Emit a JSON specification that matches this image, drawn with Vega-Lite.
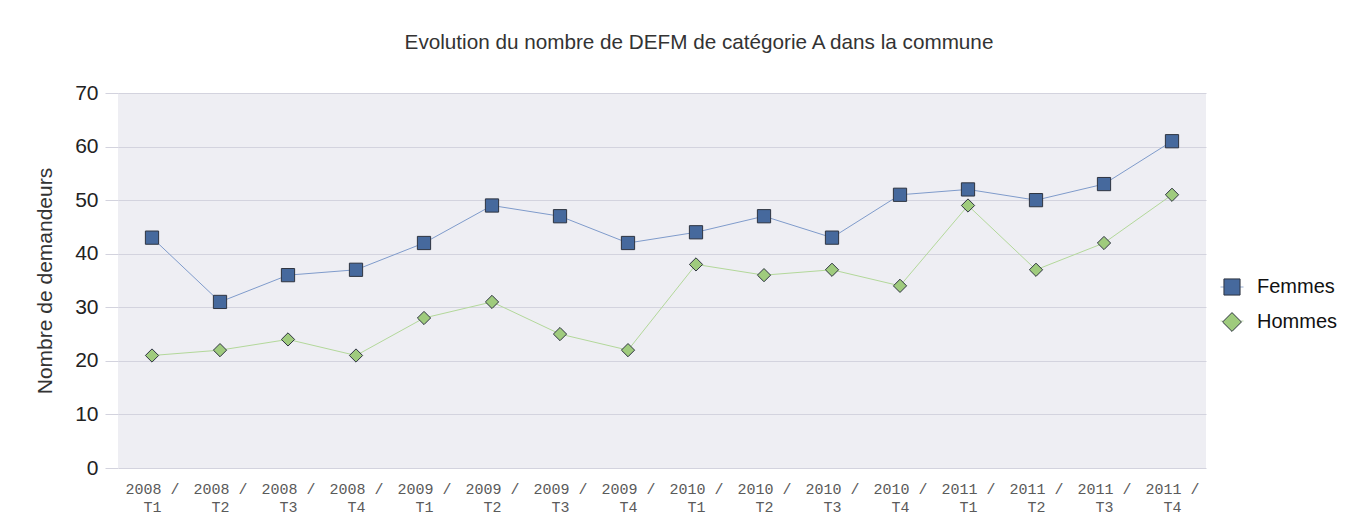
{
  "$schema": "https://vega.github.io/schema/vega-lite/v6.json",
  "width": 1088,
  "height": 375,
  "autosize": {"type": "none"},
  "padding": {"left": 118, "top": 93, "right": 163, "bottom": 52},
  "background": "white",
  "title": {
    "text": "Evolution du nombre de DEFM de catégorie A dans la commune",
    "font": "Liberation Sans",
    "fontSize": 20.7,
    "fontWeight": "normal",
    "color": "#333333",
    "anchor": "middle",
    "frame": "group",
    "dx": 37,
    "offset": 28
  },
  "config": {
    "view": {"fill": "#eeeef3", "stroke": null}
  },
  "data": {
    "values": [
      {"periode": "2008 / T1", "serie": "Femmes", "valeur": 43},
      {"periode": "2008 / T2", "serie": "Femmes", "valeur": 31},
      {"periode": "2008 / T3", "serie": "Femmes", "valeur": 36},
      {"periode": "2008 / T4", "serie": "Femmes", "valeur": 37},
      {"periode": "2009 / T1", "serie": "Femmes", "valeur": 42},
      {"periode": "2009 / T2", "serie": "Femmes", "valeur": 49},
      {"periode": "2009 / T3", "serie": "Femmes", "valeur": 47},
      {"periode": "2009 / T4", "serie": "Femmes", "valeur": 42},
      {"periode": "2010 / T1", "serie": "Femmes", "valeur": 44},
      {"periode": "2010 / T2", "serie": "Femmes", "valeur": 47},
      {"periode": "2010 / T3", "serie": "Femmes", "valeur": 43},
      {"periode": "2010 / T4", "serie": "Femmes", "valeur": 51},
      {"periode": "2011 / T1", "serie": "Femmes", "valeur": 52},
      {"periode": "2011 / T2", "serie": "Femmes", "valeur": 50},
      {"periode": "2011 / T3", "serie": "Femmes", "valeur": 53},
      {"periode": "2011 / T4", "serie": "Femmes", "valeur": 61},
      {"periode": "2008 / T1", "serie": "Hommes", "valeur": 21},
      {"periode": "2008 / T2", "serie": "Hommes", "valeur": 22},
      {"periode": "2008 / T3", "serie": "Hommes", "valeur": 24},
      {"periode": "2008 / T4", "serie": "Hommes", "valeur": 21},
      {"periode": "2009 / T1", "serie": "Hommes", "valeur": 28},
      {"periode": "2009 / T2", "serie": "Hommes", "valeur": 31},
      {"periode": "2009 / T3", "serie": "Hommes", "valeur": 25},
      {"periode": "2009 / T4", "serie": "Hommes", "valeur": 22},
      {"periode": "2010 / T1", "serie": "Hommes", "valeur": 38},
      {"periode": "2010 / T2", "serie": "Hommes", "valeur": 36},
      {"periode": "2010 / T3", "serie": "Hommes", "valeur": 37},
      {"periode": "2010 / T4", "serie": "Hommes", "valeur": 34},
      {"periode": "2011 / T1", "serie": "Hommes", "valeur": 49},
      {"periode": "2011 / T2", "serie": "Hommes", "valeur": 37},
      {"periode": "2011 / T3", "serie": "Hommes", "valeur": 42},
      {"periode": "2011 / T4", "serie": "Hommes", "valeur": 51}
    ]
  },
  "encoding": {
    "x": {
      "field": "periode",
      "type": "ordinal",
      "sort": null,
      "scale": {"type": "point", "padding": 0.5},
      "axis": {
        "title": null,
        "labelExpr": "[slice(datum.label, 0, 6), slice(datum.label, 7)]",
        "labelFont": "Liberation Mono",
        "labelFontSize": 15,
        "labelColor": "#5a5a5a",
        "labelAngle": 0,
        "labelLineHeight": 18,
        "labelPadding": 13,
        "labelOverlap": false,
        "ticks": false,
        "domain": false,
        "grid": false
      }
    },
    "y": {
      "field": "valeur",
      "type": "quantitative",
      "scale": {"domain": [0, 70]},
      "axis": {
        "values": [0, 10, 20, 30, 40, 50, 60, 70],
        "title": "Nombre de demandeurs",
        "titleFont": "Liberation Sans",
        "titleFontSize": 21,
        "titleFontWeight": "normal",
        "titleColor": "#333333",
        "titlePadding": 19,
        "labelFont": "Liberation Sans",
        "labelFontSize": 21,
        "labelColor": "#222222",
        "labelPadding": 7,
        "tickSize": 13,
        "tickColor": "#d3d3de",
        "gridColor": "#d3d3de",
        "domain": false
      }
    }
  },
  "layer": [
    {
      "mark": {"type": "line", "strokeWidth": 1},
      "encoding": {
        "color": {
          "field": "serie",
          "type": "nominal",
          "scale": {"domain": ["Femmes", "Hommes"], "range": ["#7f9bcb", "#b3d89a"]},
          "legend": null
        }
      }
    },
    {
      "mark": {"type": "point", "filled": true, "size": 175, "stroke": "#2e3440", "strokeWidth": 1, "opacity": 1},
      "encoding": {
        "shape": {
          "field": "serie",
          "type": "nominal",
          "scale": {"domain": ["Femmes", "Hommes"], "range": ["square", "diamond"]},
          "legend": null
        },
        "fill": {
          "field": "serie",
          "type": "nominal",
          "scale": {"domain": ["Femmes", "Hommes"], "range": ["#46699d", "#9fcb7d"]},
          "legend": null
        }
      }
    },
    {
      "transform": [{"filter": "false"}],
      "mark": {"type": "point", "filled": false, "strokeWidth": 1},
      "encoding": {
        "shape": {
          "field": "serie",
          "type": "nominal",
          "scale": {"domain": ["Femmes", "Hommes"], "range": ["M-1,0H-0.7M0.7,0H1", "M-1,0H-0.8M0.8,0H1"]},
          "legend": {"orient": "none", "legendX": 1102, "legendY": 182, "title": null, "symbolSize": 529, "symbolStrokeWidth": 1, "labelFont": "Liberation Sans", "labelFontSize": 20, "labelColor": "#111111", "labelOpacity": 0, "labelOffset": 13, "rowPadding": 12, "padding": 0}
        },
        "stroke": {
          "field": "serie",
          "type": "nominal",
          "scale": {"domain": ["Femmes", "Hommes"], "range": ["#6f8fc4", "#a6d18a"]},
          "legend": {"orient": "none", "legendX": 1102, "legendY": 182, "title": null, "symbolSize": 529, "symbolStrokeWidth": 1, "labelFont": "Liberation Sans", "labelFontSize": 20, "labelColor": "#111111", "labelOpacity": 0, "labelOffset": 13, "rowPadding": 12, "padding": 0}
        }
      }
    },
    {
      "transform": [{"filter": "false"}],
      "mark": {"type": "point", "filled": true, "stroke": "#2e3440", "strokeWidth": 1, "opacity": 1},
      "encoding": {
        "shape": {
          "field": "serie",
          "type": "nominal",
          "scale": {"domain": ["Femmes", "Hommes"], "range": ["M-0.7,-0.7H0.7V0.7H-0.7Z", "M0,-0.82L0.82,0L0,0.82L-0.82,0Z"]},
          "legend": {"orient": "none", "legendX": 1102, "legendY": 182, "title": null, "symbolSize": 529, "symbolStrokeWidth": 1, "labelFont": "Liberation Sans", "labelFontSize": 20, "labelColor": "#111111", "labelOffset": 13, "rowPadding": 12, "padding": 0}
        },
        "fill": {
          "field": "serie",
          "type": "nominal",
          "scale": {"domain": ["Femmes", "Hommes"], "range": ["#46699d", "#9fcb7d"]},
          "legend": {"orient": "none", "legendX": 1102, "legendY": 182, "title": null, "symbolSize": 529, "symbolStrokeWidth": 1, "labelFont": "Liberation Sans", "labelFontSize": 20, "labelColor": "#111111", "labelOffset": 13, "rowPadding": 12, "padding": 0}
        }
      }
    }
  ],
  "resolve": {
    "scale": {"shape": "independent", "fill": "independent", "stroke": "independent", "color": "independent"}
  }
}
